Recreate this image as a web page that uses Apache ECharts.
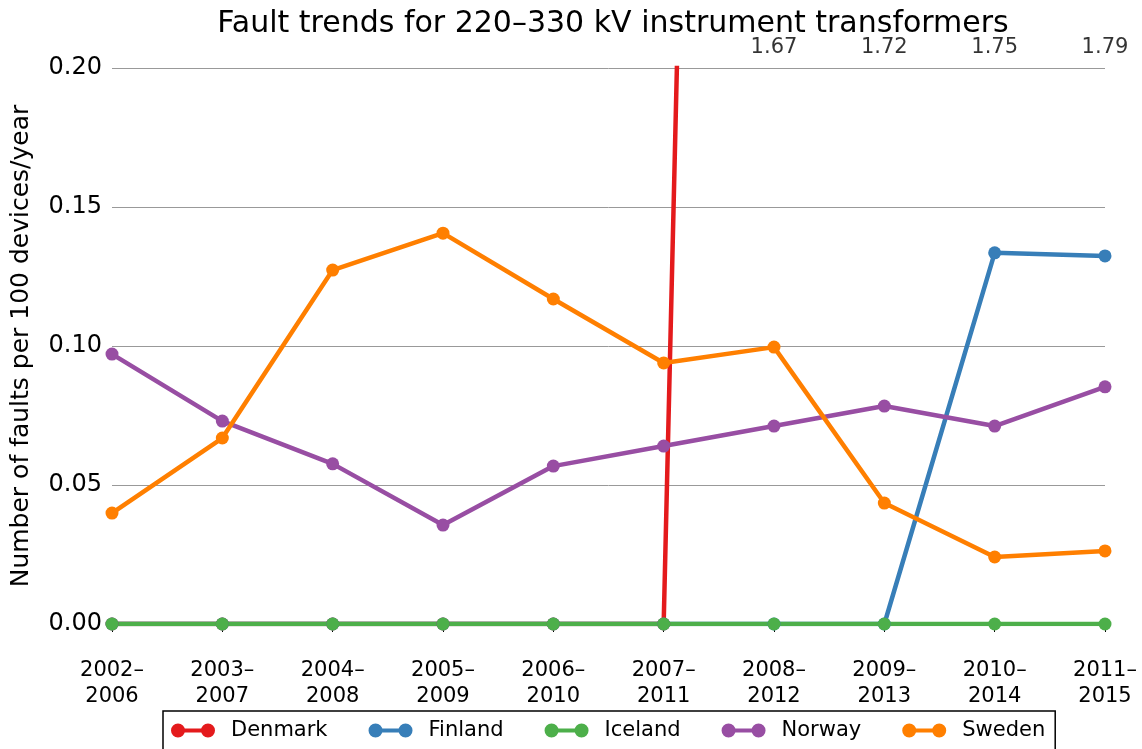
<!DOCTYPE html>
<html>
<head>
<meta charset="utf-8">
<script src="https://cdn.jsdelivr.net/npm/echarts@6/dist/echarts.min.js"></script>
<style>
  html, body { margin: 0; padding: 0; background: #fff; }
  #chart { width: 1142px; height: 749px; }
</style>
</head>
<body>
<div id="chart"></div>
<script>
// Five-year rolling windows
const periods = ['2002–\n2006', '2003–\n2007', '2004–\n2008', '2005–\n2009', '2006–\n2010',
                 '2007–\n2011', '2008–\n2012', '2009–\n2013', '2010–\n2014', '2011–\n2015'];

// Faults per 100 devices per year
const denmark = [0, 0, 0, 0, 0, 0, 1.67, 1.72, 1.75, 1.79];
const finland = [0, 0, 0, 0, 0, 0, 0, 0, 0.1335, 0.1324];
const iceland = [0, 0, 0, 0, 0, 0, 0, 0, 0, 0];
const norway  = [0.0971, 0.0730, 0.0576, 0.0356, 0.0568, 0.0640, 0.0712, 0.0784, 0.0712, 0.0853];
const sweden  = [0.0399, 0.0669, 0.1273, 0.1406, 0.1169, 0.0939, 0.0996, 0.0435, 0.0241, 0.0263];

const yTicks = [0, 0.05, 0.10, 0.15, 0.20];
const yMax = yTicks[yTicks.length - 1];

const FONT = 'DejaVu Sans';
const countries = [
  { name: 'Denmark', data: denmark, color: '#e41a1c' },
  { name: 'Finland', data: finland, color: '#377eb8' },
  { name: 'Iceland', data: iceland, color: '#4daf4a' },
  { name: 'Norway',  data: norway,  color: '#984ea3' },
  { name: 'Sweden',  data: sweden,  color: '#ff7f00' }
];

// Legend marker: a short line with a dot at each end
const legendIcon = 'path://M0,7a7,7 0 1,0 14,0a7,7 0 1,0 -14,0Z' +
                   'M30,7a7,7 0 1,0 14,0a7,7 0 1,0 -14,0Z' +
                   'M13,5L13,9L31,9L31,5Z';

const lineSeries = countries.map(c => ({
  name: c.name,
  type: 'line',
  data: c.data,
  color: c.color,
  lineStyle: { width: 4.5, color: c.color },
  itemStyle: { color: c.color },
  symbol: 'circle',
  symbolSize: 13,
  showAllSymbol: true,
  clip: true,
  animation: false
}));

// Values above the axis range are written along the top edge of the plot
const offScale = [];
denmark.forEach((v, i) => { if (v > yMax) offScale.push([i, yMax, v]); });
const offScaleSeries = {
  name: 'Denmark (off scale)',
  type: 'scatter',
  data: offScale,
  symbolSize: 1,
  itemStyle: { color: 'rgba(0,0,0,0)' },
  silent: true,
  clip: false,
  animation: false,
  label: {
    show: true,
    position: 'top',
    distance: 9,
    color: '#000',
    fontFamily: FONT,
    fontSize: 21,
    formatter: p => p.data[2].toFixed(2)
  }
};

const chart = echarts.init(document.getElementById('chart'), null, { renderer: 'canvas' });
chart.setOption({
  backgroundColor: '#fff',
  animation: false,
  title: {
    text: 'Fault trends for 220–330 kV instrument transformers',
    left: 608,
    textAlign: 'center',
    top: 4,
    textStyle: { fontFamily: FONT, fontSize: 30, fontWeight: 'normal', color: '#000' }
  },
  grid: { left: 112, right: 37, top: 68, bottom: 125 },
  legend: {
    data: countries.map(c => ({ name: c.name, icon: legendIcon })),
    left: 163,
    top: 711,
    width: 900,
    padding: [9, 10, 12, 8],
    itemWidth: 44,
    itemHeight: 14,
    itemGap: 41,
    borderColor: '#000',
    borderWidth: 1.5,
    borderRadius: 0,
    textStyle: { fontFamily: FONT, fontSize: 21, color: '#000', padding: [0, 0, 0, 11] }
  },
  xAxis: {
    type: 'category',
    data: periods,
    boundaryGap: false,
    axisLine: { show: true, onZero: false, lineStyle: { color: '#000', width: 1.5 } },
    axisTick: { show: true, inside: false, length: 8, alignWithLabel: true, lineStyle: { color: '#000', width: 1 } },
    axisLabel: { fontFamily: FONT, fontSize: 21, color: '#000', lineHeight: 26, margin: 34, interval: 0 },
    splitLine: { show: false }
  },
  yAxis: {
    type: 'value',
    min: 0,
    max: yMax,
    interval: 0.05,
    name: 'Number of faults per 100 devices/year',
    nameLocation: 'middle',
    nameGap: 78,
    nameTextStyle: { fontFamily: FONT, fontSize: 25, color: '#000' },
    axisLine: { show: false },
    axisTick: { show: false },
    axisLabel: { fontFamily: FONT, fontSize: 24, color: '#000', margin: 10, formatter: v => v.toFixed(2) },
    splitLine: { show: true, lineStyle: { color: '#999', width: 1 } }
  },
  series: [...lineSeries, offScaleSeries]
});
</script>
</body>
</html>
